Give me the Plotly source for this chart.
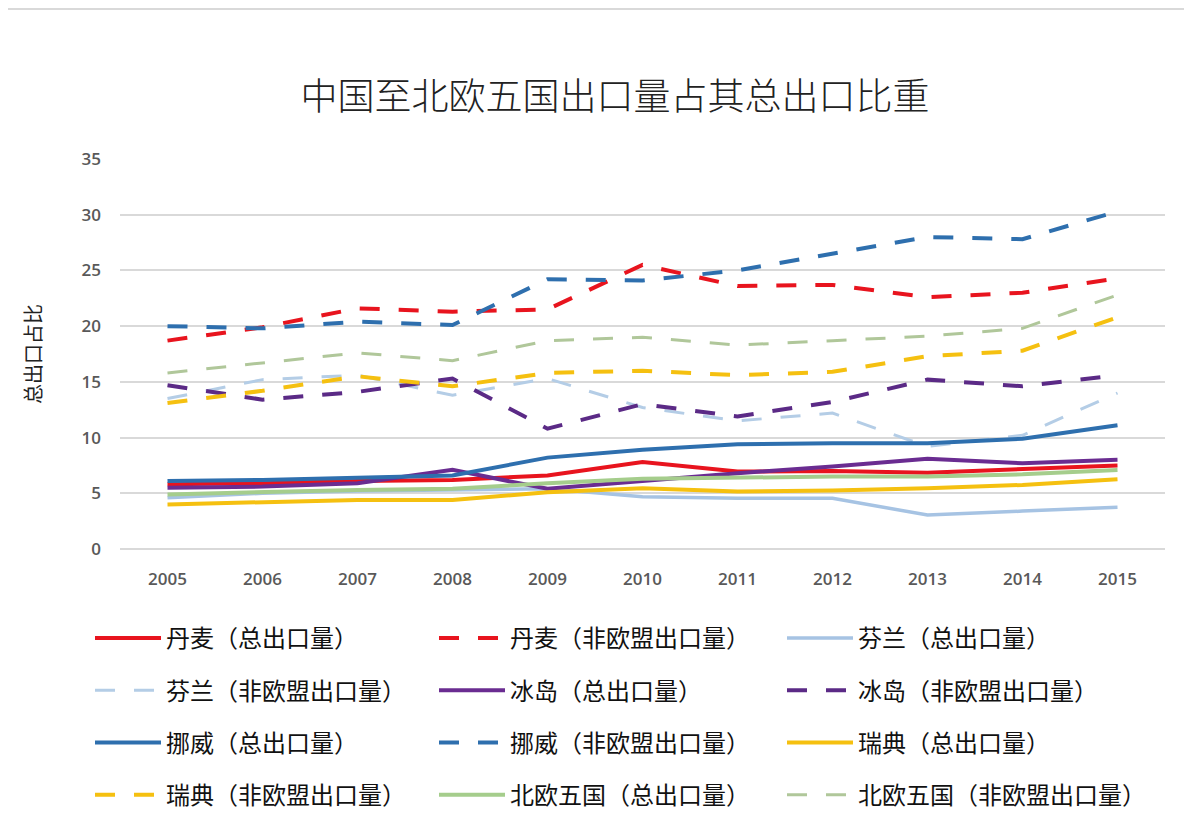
import plotly.graph_objects as go

years = ["2005", "2006", "2007", "2008", "2009", "2010", "2011", "2012", "2013", "2014", "2015"]

denmark_total = [5.8, 5.9, 6.1, 6.2, 6.6, 7.8, 6.95, 7.0, 6.85, 7.2, 7.5]
denmark_noneu = [18.7, 19.9, 21.6, 21.3, 21.5, 25.5, 23.6, 23.7, 22.6, 23.0, 24.3]
finland_total = [4.6, 5.0, 5.2, 5.3, 5.4, 4.7, 4.55, 4.55, 3.05, 3.4, 3.75]
finland_noneu = [13.5, 15.2, 15.6, 13.8, 15.3, 12.7, 11.5, 12.2, 9.2, 10.2, 14.0]
iceland_total = [5.5, 5.6, 5.9, 7.1, 5.4, 6.1, 6.8, 7.4, 8.1, 7.7, 8.0]
iceland_noneu = [14.7, 13.4, 14.1, 15.3, 10.8, 13.0, 11.9, 13.2, 15.2, 14.6, 15.6]
norway_total = [6.1, 6.2, 6.4, 6.6, 8.2, 8.9, 9.4, 9.5, 9.5, 9.9, 11.1]
norway_noneu = [20.0, 19.8, 20.4, 20.1, 24.2, 24.1, 25.0, 26.5, 28.0, 27.8, 30.3]
sweden_total = [4.0, 4.2, 4.4, 4.4, 5.1, 5.45, 5.15, 5.25, 5.45, 5.75, 6.25]
sweden_noneu = [13.1, 14.2, 15.5, 14.6, 15.8, 16.0, 15.6, 15.9, 17.3, 17.8, 20.8]
nordic_total = [4.9, 5.1, 5.3, 5.4, 5.9, 6.3, 6.4, 6.5, 6.5, 6.7, 7.1]
nordic_noneu = [15.8, 16.7, 17.6, 16.9, 18.7, 19.0, 18.3, 18.7, 19.1, 19.8, 22.8]

series = [
    ("丹麦（总出口量）", denmark_total, "#e8141e", "solid", 4),
    ("丹麦（非欧盟出口量）", denmark_noneu, "#e8141e", "dash", 4),
    ("芬兰（总出口量）", finland_total, "#a6c3e3", "solid", 3.5),
    ("芬兰（非欧盟出口量）", finland_noneu, "#b4cde6", "dash", 3),
    ("冰岛（总出口量）", iceland_total, "#6a2c91", "solid", 4),
    ("冰岛（非欧盟出口量）", iceland_noneu, "#5b2a86", "dash", 4),
    ("挪威（总出口量）", norway_total, "#2e6fae", "solid", 4),
    ("挪威（非欧盟出口量）", norway_noneu, "#2e6fae", "dash", 4),
    ("瑞典（总出口量）", sweden_total, "#f5c010", "solid", 4),
    ("瑞典（非欧盟出口量）", sweden_noneu, "#f5c010", "dash", 4),
    ("北欧五国（总出口量）", nordic_total, "#a5cd8c", "solid", 4),
    ("北欧五国（非欧盟出口量）", nordic_noneu, "#b0c79a", "dash", 3),
]

legend_ids = ["legend", "legend2", "legend3"]

fig = go.Figure()
for i, (name, vals, color, dash, w) in enumerate(series):
    fig.add_trace(go.Scatter(
        x=years, y=vals, name=name, mode="lines",
        legend=legend_ids[i % 3], legendgroup="g%d" % i,
        line=dict(color=color, width=w, dash=("20px,19px" if dash == "dash" else "solid")),
    ))

# figure drawn at an 8px page offset; plot area 112..1157 x 151..541 in figure px
W, H = 1184, 816
fig.update_layout(
    width=W, height=H,
    paper_bgcolor="white", plot_bgcolor="white",
    margin=dict(l=112, r=27, t=151, b=275, autoexpand=False),
    title=dict(text="中国至北欧五国出口量占其总出口比重", x=607 / W, xanchor="center",
               y=1 - 89 / H, yanchor="middle",
               font=dict(family="Noto Sans CJK SC", size=37, color="#222222", weight=300)),
    xaxis=dict(type="category", range=[-0.5, 10.5], showgrid=False, showline=False, ticks="",
               tickfont=dict(family="Open Sans", size=17, color="#595959", weight=600),
               ticklabelstandoff=18),
    yaxis=dict(range=[0, 35], dtick=5, showgrid=True, gridcolor="#d9d9d9", gridwidth=1.5,
               zeroline=True, zerolinecolor="#d9d9d9", zerolinewidth=1.5,
               tickfont=dict(family="Open Sans", size=17, color="#595959", weight=600),
               ticklabelstandoff=18,
               title=dict(text="总出口占比", standoff=34,
                          font=dict(family="Noto Sans CJK SC", size=20, color="#222222"))),
    showlegend=True,
)

col_symbol_x = [85, 429, 777]
for lid, sx in zip(legend_ids, col_symbol_x):
    fig.update_layout({lid: dict(
        orientation="v", x=(sx - 3 - 112) / 1045, xanchor="left",
        y=-(608 - 541) / 390, yanchor="top",
        itemwidth=66, tracegroupgap=18, traceorder="grouped",
        font=dict(family="Noto Sans CJK SC", size=24, color="#111111"),
        bgcolor="rgba(0,0,0,0)",
    )})

fig.add_shape(type="line", xref="paper", yref="paper", x0=-0.12, x1=1.03,
              y0=1 + 150 / 390, y1=1 + 150 / 390,
              line=dict(color="#d9d9d9", width=2))

fig.write_html("out.html")
